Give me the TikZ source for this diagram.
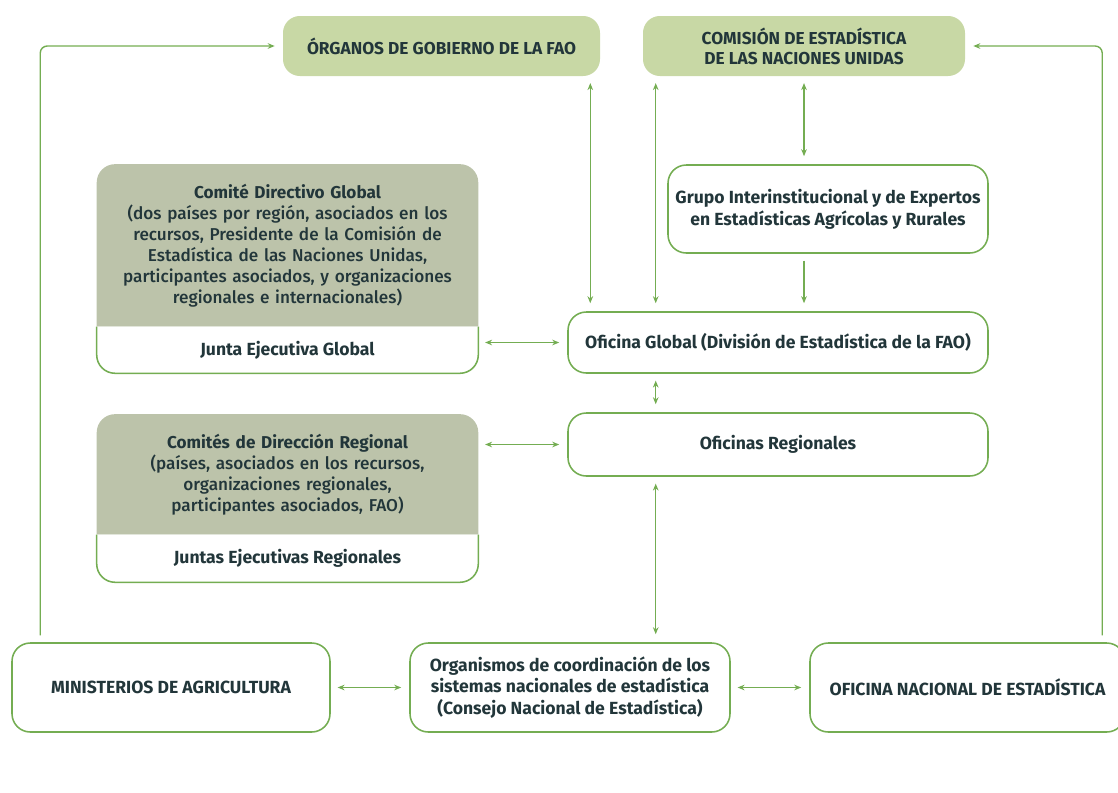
\documentclass[tikz,border=0pt]{standalone}
\usepackage{fontspec}
\setmainfont{Fira Sans}
\newfontfamily\medfont{Fira Sans Medium}
\usetikzlibrary{positioning,arrows.meta,calc,backgrounds}

\definecolor{faogreen}{HTML}{74AD52}
\definecolor{faolight}{HTML}{C8D8A5}
\definecolor{faogray}{HTML}{BCC3AA}
\definecolor{faotext}{HTML}{22363A}

\begin{document}
\begin{tikzpicture}[x=0.025cm,y=-0.025cm,
		font=\bfseries\fontsize{12.5}{15.5}\selectfont, text=faotext,
		topbox/.style={fill=faolight, rounded corners=12pt, align=center, inner sep=0pt, font=\bfseries\fontsize{12.3}{14.2}\selectfont},
		wbox/.style={draw=faogreen, line width=1.1pt, fill=white, rounded corners=13pt, align=center, inner sep=0pt},
		jbox/.style={minimum width=381*\px, inner sep=0pt},
		cbox/.style={minimum width=381*\px, text width=375*\px, align=center, inner sep=0pt, font=\bfseries\fontsize{12.2}{14.9}\selectfont},
		link/.style={draw=faogreen, line width=1pt, shorten <=0.17cm, shorten >=0.2cm},
		dbl/.style={link, {Stealth[length=5pt,width=4pt]}-{Stealth[length=5pt,width=4pt]}},
		arr/.style={link, -{Stealth[length=5pt,width=4pt]}}]
		\def\px{0.025cm}
		
		\clip (0,0) rectangle (1118,792);
		
		% top row
		\node[topbox, minimum width=317*\px, minimum height=60*\px] (ogob) at (441.5,46) {ÓRGANOS DE GOBIERNO DE LA FAO};
		\node[topbox, minimum width=322*\px, minimum height=60*\px] (cest) at (804,46) {COMISIÓN DE ESTADÍSTICA\\DE LAS NACIONES UNIDAS};
		
		% right column
		\node[wbox, minimum width=320*\px, minimum height=88*\px] (gie) at (828,209) {Grupo Interinstitucional y de Expertos\\en Estadísticas Agrícolas y Rurales};
		\node[wbox, minimum width=420*\px, minimum height=61*\px] (ofg) at (778,342.5) {Oficina Global (División de Estadística de la FAO)};
		\node[wbox, minimum width=420*\px, minimum height=63*\px] (ofr) at (778,444.5) {Oficinas Regionales};
		
		% left column
		\node[jbox, minimum height=46*\px] (jeg) at (287.5,350) {Junta Ejecutiva Global};
		\node[cbox, minimum height=162*\px, above=0pt of jeg] (cdg) {Comité Directivo Global\\{\medfont\mdseries (dos países por región, asociados en los\\recursos, Presidente de la Comisión de\\Estadística de las Naciones Unidas,\\participantes asociados, y organizaciones\\regionales e internacionales)}};
		
		\node[jbox, minimum height=47*\px] (jer) at (287.5,558.5) {Juntas Ejecutivas Regionales};
		\node[cbox, minimum height=120*\px, above=0pt of jer] (cdr) {Comités de Dirección Regional\\{\medfont\mdseries (países, asociados en los recursos,\\organizaciones regionales,\\participantes asociados, FAO)}};
		
		\begin{pgfonlayer}{background}
			\foreach \c/\j in {cdg/jeg,cdr/jer} {
				\fill[faogray, rounded corners=13pt] (\c.south west) -- (\c.north west) -- (\c.north east) -- (\c.south east);
				\draw[faogreen, line width=1.1pt, fill=white, rounded corners=13pt] (\j.north west) -- (\j.south west) -- (\j.south east) -- (\j.north east);
			}
		\end{pgfonlayer}
		
		% bottom row
		\node[wbox, minimum width=318*\px, minimum height=89*\px] (min) at (171,687.5) {MINISTERIOS DE AGRICULTURA};
		\node[wbox, minimum width=320*\px, minimum height=89*\px] (org) at (570,687.5) {Organismos de coordinación de los\\sistemas nacionales de estadística\\(Consejo Nacional de Estadística)};
		\node[wbox, minimum width=315*\px, minimum height=89*\px] (one) at (967.5,687.5) {OFICINA NACIONAL DE ESTADÍSTICA};
		
		\coordinate (a1) at ($(ogob.south east)+(-10,0)$);
		\coordinate (a2) at ($(cest.south west)+(13,0)$);
		\coordinate (c1) at ($(min.north west)+(29,0)$);
		\coordinate (c2) at ($(one.north west)+(293,0)$);
		
		\draw[dbl] (a1) -- (a1 |- ofg.north);
		\draw[dbl] (a2) -- (a2 |- ofg.north);
		\draw[dbl] (cest.south) -- (cest.south |- gie.north);
		\draw[arr] (cest.south |- gie.south) -- (cest.south |- ofg.north);
		\draw[dbl] (a2 |- ofg.south) -- (a2 |- ofr.north);
		\draw[dbl] (a2 |- ofr.south) -- (a2 |- org.north);
		\draw[dbl] (jeg.east |- ofg.west) -- (ofg.west);
		\draw[dbl] (cdr.east |- ofr.west) -- (ofr.west);
		\draw[dbl] (min.east) -- (org.west);
		\draw[dbl] (org.east) -- (one.west);
		
		\draw[arr, rounded corners=5pt] (c1) |- (ogob.west);
		\draw[arr, rounded corners=5pt] (c2) |- (cest.east);
	\end{tikzpicture}
\end{document}
